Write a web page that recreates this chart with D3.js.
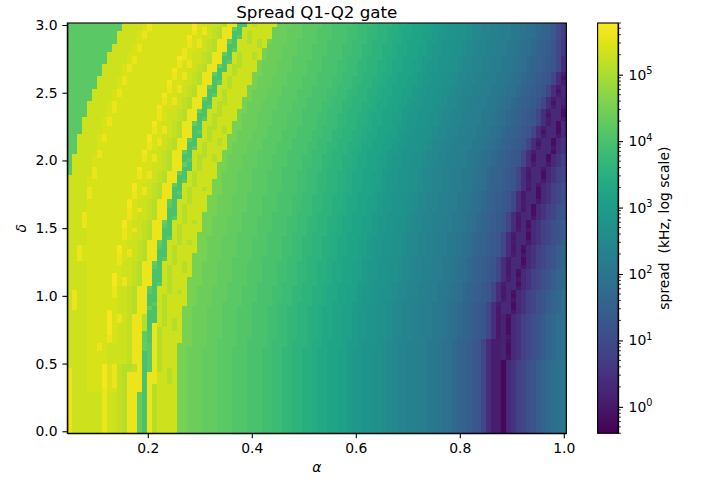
<!DOCTYPE html>
<html>
<head>
<meta charset="utf-8">
<script src="https://cdn.jsdelivr.net/npm/d3@7"></script>
<style>
  html, body { margin: 0; padding: 0; background: #fff; }
  text { font-family: "DejaVu Sans", sans-serif; fill: #000; }
</style>
</head>
<body>
<div id="Area"></div>
<script>
// alpha per column, delta per row (first row is the top of the picture)
const alphaValues = [0.05,0.0596,0.0692,0.0788,0.0884,0.098,0.1076,0.1172,0.1268,0.1364,
  0.146,0.1556,0.1652,0.1747,0.1843,0.1939,0.2035,0.2131,0.2227,0.2323,
  0.2419,0.2515,0.2611,0.2707,0.2803,0.2899,0.2995,0.3091,0.3187,0.3283,
  0.3379,0.3475,0.3571,0.3667,0.3763,0.3859,0.3955,0.4051,0.4147,0.4242,
  0.4338,0.4434,0.453,0.4626,0.4722,0.4818,0.4914,0.501,0.5106,0.5202,
  0.5298,0.5394,0.549,0.5586,0.5682,0.5778,0.5874,0.597,0.6066,0.6162,
  0.6258,0.6354,0.645,0.6546,0.6641,0.6737,0.6833,0.6929,0.7025,0.7121,
  0.7217,0.7313,0.7409,0.7505,0.7601,0.7697,0.7793,0.7889,0.7985,0.8081,
  0.8177,0.8273,0.8369,0.8465,0.8561,0.8657,0.8753,0.8848,0.8944,0.904,
  0.9136,0.9232,0.9328,0.9424,0.952,0.9616,0.9712,0.9808,0.9904,1.0];
const deltaValues = [3,2.97,2.939,2.909,2.879,2.848,2.818,2.788,2.758,2.727,
  2.697,2.667,2.636,2.606,2.576,2.545,2.515,2.485,2.455,2.424,
  2.394,2.364,2.333,2.303,2.273,2.242,2.212,2.182,2.152,2.121,
  2.091,2.061,2.03,2,1.97,1.939,1.909,1.879,1.848,1.818,
  1.788,1.758,1.727,1.697,1.667,1.636,1.606,1.576,1.545,1.515,
  1.485,1.455,1.424,1.394,1.364,1.333,1.303,1.273,1.242,1.212,
  1.182,1.152,1.121,1.091,1.061,1.03,1,0.97,0.939,0.909,
  0.879,0.848,0.818,0.788,0.758,0.727,0.697,0.667,0.636,0.606,
  0.576,0.545,0.515,0.485,0.455,0.424,0.394,0.364,0.333,0.303,
  0.273,0.242,0.212,0.182,0.152,0.121,0.091,0.061,0.03,0];

// one character per cell: position in levelChars = log10(kHz) in tenths, from -0.4
const levelChars = "0123456789abcdefghijklmnopqrstuvwxyzABCDEFGHIJKLMNOPQRSTUVWXYZ";
const spreadRows = [
"KKKKKKKKKKKVVVVWYWWWWWWWWZWWVVUTYYIIVTVVVVMMMLLKKKKJJIIIIHGGGFEEEDCCBAAAzyyxwwwvuttssrrqqpponmlkjheb",
"KKKKKKKKKKKVVVVWYWWWWWWWWZWYVUTYYLIVVVVVVMMMLLLKKKJJJIIIHHGGFFEEDDCBBAAzzyxxwwvvuttssrrqqpponmlkjheb",
"KKKKKKKKKKVVVVWYWWWWWWWWWYWYVUTYYIIVTVVVVMMMLLLKKKJJJIIIHHGGFFEEDDCBBAAzzyxxwwvvuttssrrqqpponmlkjheb",
"KKKKKKKKKKVVVVWYWWWWWWWWZWWVVUTYYIKVTVVVVMMMLLLKKKJJJIIIHHGGFFEEDDCBBAAzzyxxwwvvuttssrrqqpponmlkjheb",
"KKKKKKKKKKVVVVWWWWWWWWWWYWYVUTYYLIVVTVTVNMMMLLKKKKJJIIIIHGGGFEEEDCCBAAAzyyxwwwvuttssrrqqpponmlkjigda",
"KKKKKKKKKVVVVWYWWWWWWWWWYWYVUTYYIIVVVVTVMMMLLLKKKJJJIIIHHGGFFEEDDCBBAAzzyxxwwvvuttssrrqqpponmlkjigda",
"KKKKKKKKKVVVVWYWWWWWWWWYWWVVUTYYIKVVVVVNMMMLLLKKKJJJIIIHHGGFFEEDDCBBAAzzyxxwwvvuttssrrqqpponmlkjigda",
"KKKKKKKKVVVVWWWWWWWWWWWYWVVUTYYLIVTVVTVNMMMLLLKKKJJJIIIHHGGFFEEDDCBBAAzzyxxwwvvuttssrrqqpponmlkjigda",
"KKKKKKKKVVVVWYWWWWWWWWZYWVVUTYYIIVTVVTVNMMMLLKKKKJJIIIIHGGGFEEEDCCBAAAzyyxwwwvuttssrrqqpponmlkjihgd8",
"KKKKKKKKVVVVWYWWWWWWWWYWYVVUTYYIKVTVVVNMMMLLLKKKJJJIIIHHGGFFEEDDCBBAAzzyxxwwvvuttssrrqqpponmlkjihgd8",
"KKKKKKKVVVVWYWWWWWWWWWYWYVUTYYLIVTTVVVNMMMLLLKKKJJJIIIHHGGFFEEDDCBBAAzzyxxwwvvuttssrrqqpponmlkjihgd8",
"KKKKKKKVVVVWYWWWWWWWWZWWVVUTYYIIVTVVVVNMMMLLLKKKJJJIIIHHGGFFEEDDCBBAAzzyxxwwvvuttssrrqqpponmlkjihgd8",
"KKKKKKKVVVVWWWWWWWWWWYWYVUTYYLIVVTVVVNNMMMLLKKKKJJIIIIHGGGFEEEDCCBAAAzyyxwwwvuttssrrqqpponmlkjihgd85",
"KKKKKKVVVVWYWWWWWWWWWYWYVUTYYIIVTVVVVNMMMLLLKKKJJJIIIHHGGFFEEDDCBBAAzzyxxwwvvuttssrrqqpponmlkjihgd83",
"KKKKKKVVVVWYWWWWWWWWZWWVVUTYYIKVTVVVVNMMMLLLKKKJJJIIIHHGGFFEEDDCBBAAzzyxxwwvvuttssrrqqpponmlkjihgd85",
"KKKKKKVVVVWWWWWWWWWWYWYVUTYYLIVVTVVVNNMMMLLKKKKJJIIIIHGGGFEEEDCCBAAAzyyxwwwvuttssrrqqpponmlkjihgd857",
"KKKKKVVVVWYWWWWWWWWWYWYVUTYYIIVTVVVVNMMMLLLKKKJJJIIIHHGGFFEEDDCBBAAzzyxxwwvvuttssrrqqpponmlkjihgd837",
"KKKKKVVVVWYWWWWWWWWZWWVVUTYYIKVTVVVVNMMMLLLKKKJJJIIIHHGGFFEEDDCBBAAzzyxxwwvvuttssrrqqpponmlkjihgd857",
"KKKKKVVVVWWWWWWWWWWYWYVUTYYLIVVTVVVNNMMMLLKKKKJJIIIIHGGGFEEEDCCBAAAzyyxwwwvuttssrrqqpponmlkjihgd8576",
"KKKKVVVVWYWWWWWWWWWYWYVUTYYIIVTTVVVNMMMLLLKKKJJJIIIHHGGFFEEDDCBBAAzzyxxwwvvuttssrrqqpponmlkjihgd8376",
"KKKKVVVVWYWWWWWWWWZWWVVUTYYIKVTVVVVNMMMLLLKKKJJJIIIHHGGFFEEDDCBBAAzzyxxwwvvuttssrrqqpponmlkjihgd8574",
"KKKKVVVVWYWWWWWWWWYWVVUTYYLIVVTVVVNNMMMLLKKKKJJIIIIHGGGFEEEDCCBAAAzyyxwwwvuttssrrqqpponmlkjihgd85772",
"KKKKVVVVWWWWWWWWWWYWVVUTYYIIVTTVVVNMMMLLLKKKJJJIIIHHGGFFEEDDCBBAAzzyxxwwvvuttssrrqqpponmlkjihgd83772",
"KKKVVVVWYWWWWWWWWWYWVVUTYYIKVTVVVVNMMMLLLKKKJJJIIIHHGGFFEEDDCBBAAzzyxxwwvvuttssrrqqpponmlkjihgd85774",
"KKKVVVVWYWWWWWWWWZWVVUTYYLIVVTVVVNNMMMLLLKKKJJJIIIHHGGFFEEDDCBBAAzzyxxwwvvuttssrrqqpponmlkjihgd85727",
"KKKVVVVWWWWWWWWWWYWYVUTYYIIVTTVTVNNMMMLLKKKKJJIIIIHGGGFEEEDCCBAAAzyyxwwwvuttssrrqqpponmlkjihgd857727",
"KKKVVVVWWWWWWWWWWYWYVUTYYIKVTVVTVNMMMLLLKKKJJJIIIHHGGFFEEDDCBBAAzzyxxwwvvuttssrrqqpponmlkjihgd837727",
"KKVVVVWYWWWWWWWWZWWVVUTYYIIVTVVVNNMMMLLLKKKJJJIIIHHGGFFEEDDCBBAAzzyxxwwvvuttssrrqqpponmlkjihgd857747",
"KKVVVVWYWWWWWWWWZWYVUTYYLIVVTVTVNNMMMLLKKKKJJIIIIHGGGFEEEDCCBAAAzyyxwwwvuttssrrqqpponmlkjihgd8577279",
"KKVVVVWWWWWWWWWWYWYVUTYYIIVTVVTVNMMMLLLKKKJJJIIIHHGGFFEEDDCBBAAzzyxxwwvvuttssrrqqpponmlkjihgd8377279",
"KKVVVVWWWWWWWWWWYWVVUTYYIKVTVVVVNMMMLLLKKKJJJIIIHHGGFFEEDDCBBAAzzyxxwwvvuttssrrqqpponmlkjihgd8577479",
"KKVVVVYWWWWWWWWZWVVUTYYLIVVTVVVNNMMMLLKKKKJJIIIIHGGGFEEEDCCBAAAzyyxwwwvuttssrrqqpponmlkjihgd85777279",
"KVVVVWYWWWWWWWWYWYVUTYYIIVTTVTVNMMMLLLKKKJJJIIIHHGGFFEEDDCBBAAzzyxxwwvvuttssrrqqpponmlkjihgd8377279c",
"KVVVVWWWWWWWWWWYWYVUTYYIKVTVVTVNMMMLLLKKKJJJIIIHHGGFFEEDDCBBAAzzyxxwwvvuttssrrqqpponmlkjihgd8377279c",
"KVVVVWWWWWWWWWWWWVVUTYYLIVTVVVNNMMMLLLKKKJJJIIIHHGGFFEEDDCBBAAzzyxxwwvvuttssrrqqpponmlkjihgd8577479c",
"KVVVVYWWWWWWWWZWWVVUTYYIIVTVVVNNMMMLLKKKKJJIIIIHGGGFEEEDCCBAAAzyyxwwwvuttssrrqqpponmlkjihgd8577479cd",
"KVVVVYWWWWWWWWYWYVUTYYLIVTVVVVNMMMLLLKKKJJJIIIHHGGFFEEDDCBBAAzzyxxwwvvuttssrrqqpponmlkjihgd8477279cd",
"VVVVWYWWWWWWWWYWYVUTYYIIVTVVVVNMMMLLLKKKJJJIIIHHGGFFEEDDCBBAAzzyxxwwvvuttssrrqqpponmlkjihgd8477279cd",
"VVVVWWWWWWWWWWWWVVUTYYIKVTVVVNNMMMLLLKKKJJJIIIHHGGFFEEDDCBBAAzzyxxwwvvuttssrrqqpponmlkjihgd8577479cd",
"VVVVWWWWWWWWWZWVVUTYYLIVVTVVVNNMMMLLLKKKJJJIIIHHGGFFEEDDCBBAAzzyxxwwvvuttssrrqqpponmlkjihgd857479cdf",
"VVVVYWWWWWWWWZWYVUTYYIIVTVVTVNNMMMLLLKKKJJJIIIHHGGFFEEDDCBBAAzzyxxwwvvuttssrrqqpponmlkjihgd847279cdf",
"VVVVYWWWWWWWWYWYVUTYYIKVTVVVVNNMMMLLKKKKJJIIIIHGGGFEEEDCCBAAAzyyxwwwvuttssrrqqpponmlkjihgd8477279cdf",
"VVVVYWWWWWWWWYWVVUTYYIIVTVVVNNMMMLLLKKKJJJIIIHHGGFFEEDDCBBAAzzyxxwwvvuttssrrqqpponmlkjihgd8477279cdf",
"VVVVWWWWWWWWZWVVUTYYLIVVTVVVNNMMMLLLKKKJJJIIIHHGGFFEEDDCBBAAzzyxxwwvvuttssrrqqpponmlkjihgd8577479cdf",
"VVVVWWWWWWWWZWVVUTYYKIVTVVVVNNMMMLLLKKKJJJIIIHHGGFFEEDDCBBAAzzyxxwwvvuttssrrqqpponmlkjihgd857279cdfg",
"VVVVWWWWWWWWYWYVUTYYIIVTVVVVNNMMMLLLKKKJJJIIIHHGGFFEEDDCBBAAzzyxxwwvvuttssrrqqpponmlkjihgd847279cdfg",
"VVVYWWWWWWWWYWVVUTYYIIVTVVVNNNMMMLLKKKKJJIIIIHGGGFEEEDCCBAAAzyyxwwwvuttssrrqqpponmlkjihgd8577279cdfg",
"VVVYWWWWWWWWYWVVUTYYIKVTVVVNNMMMLLLKKKJJJIIIHHGGFFEEDDCBBAAzzyxxwwvvuttssrrqqpponmlkjihgd8477479cdfg",
"VVVYWWWWWWWZWVVUTYYLIVVTVTVNNMMMLLLKKKJJJIIIHHGGFFEEDDCBBAAzzyxxwwvvuttssrrqqpponmlkjihgd847379cdfgi",
"VVVYWWWWWWWZWVVUTYYKIVTVVVVNNMMMLLLKKKJJJIIIHHGGFFEEDDCBBAAzzyxxwwvvuttssrrqqpponmlkjihgd847279cdfgi",
"VVVVWWWWWWWYWYVUTYYIIVTVVVVNNMMMLLLKKKJJJIIIHHGGFFEEDDCBBAAzzyxxwwvvuttssrrqqpponmlkjihgd857479cdfgi",
"VVVVWWWWWWWYWVVUTYYIIVTVVVNNNMMMLLKKKKJJIIIIHGGGFEEEDCCBAAAzyyxwwwvuttssrrqqpponmlkjihgd8577279cdfgi",
"VVVVWWWWWWWYWVVUTYYIKVTVVVNNMMMLLLKKKJJJIIIHHGGFFEEDDCBBAAzzyxxwwvvuttssrrqqpponmlkjihgd8477279cdfgi",
"VVVVWWWWWWWWVVUTYYLIVVTVTVNNMMMLLLKKKJJJIIIHHGGFFEEDDCBBAAzzyxxwwvvuttssrrqqpponmlkjihgd8577479cdfgi",
"VVYWWWWWWWZWVVUTYYKIVTVVVVNNMMMLLLKKKJJJIIIHHGGFFEEDDCBBAAzzyxxwwvvuttssrrqqpponmlkjihgd847379cdfgik",
"VVYWWWWWWWZWYVUTYYIIVTVVVVNNMMMLLLKKKJJJIIIHHGGFFEEDDCBBAAzzyxxwwvvuttssrrqqpponmlkjihgd847279cdfgik",
"VVYWWWWWWWYWYVUTYYIIVTVVVNNNMMMLLLKKKJJJIIIHHGGFFEEDDCBBAAzzyxxwwvvuttssrrqqpponmlkjihgd857479cdfgik",
"VVYWWWWWWWYWVVUTYYIKVTVVVNNNMMMLLKKKKJJIIIIHGGGFEEEDCCBAAAzyyxwwwvuttssrrqqpponmlkjihgd8577279cdfgik",
"VVVVWWWWWWYVVUTYYLIVVTVTVNNMMMLLLKKKJJJIIIHHGGFFEEDDCBBAAzzyxxwwvvuttssrrqqpponmlkjihgd8477279cdfgik",
"VVVVWWWWWWWVVUTYYKIVTVVTVNNMMMLLLKKKJJJIIIHHGGFFEEDDCBBAAzzyxxwwvvuttssrrqqpponmlkjihgd8477479cdfgik",
"VVVVWWWWWWWVVUTYYIIVTVVTVNNMMMLLLKKKJJJIIIHHGGFFEEDDCBBAAzzyxxwwvvuttssrrqqpponmlkjihgd847379cdfgikl",
"VVVVWWWWWZWVVUTYYIIVTVVVVNNMMMLLLKKKJJJIIIHHGGFFEEDDCBBAAzzyxxwwvvuttssrrqqpponmlkjihgd847279cdfgikl",
"VVVVWWWWWZWYVUTYYIIVTVVVNNNMMMLLLKKKJJJIIIHHGGFFEEDDCBBAAzzyxxwwvvuttssrrqqpponmlkjihgd857479cdfgikl",
"VVVVWWWWWZWYVUTYYIKVTVVVNNNMMMLLKKKKJJIIIIHGGGFEEEDCCBAAAzyyxwwwvuttssrrqqpponmlkjihgd8577279cdfgikl",
"VVVVWWWWWYVVUTYYLIVVTVVVNNMMMLLLKKKJJJIIIHHGGFFEEDDCBBAAzzyxxwwvvuttssrrqqpponmlkjihgd8477479cdfgikl",
"VYVVWWWWWYVVUTYYKIVVTVTVNNMMMLLLKKKJJJIIIHHGGFFEEDDCBBAAzzyxxwwvvuttssrrqqpponmlkjihgd847379cdfgiklm",
"VYVVWWWWWYVVUTYYIIVTVVVVNNMMMLLLKKKJJJIIIHHGGFFEEDDCBBAAzzyxxwwvvuttssrrqqpponmlkjihgd847279cdfgiklm",
"VYVVWWWWWWVVUTYYIIVTVVVVNNMMMLLLKKKJJJIIIHHGGFFEEDDCBBAAzzyxxwwvvuttssrrqqpponmlkjihgd857479cdfgiklm",
"VYVVWWWWWWVVUTYYIKVTVVVVNNMMMLLKKKKJJIIIIHGGGFEEEDCCBAAAzyyxwwwvuttssrrqqpponmlkjihgd8577279cdfgiklm",
"VYVVWWWWWWVVUTYYLIVTVVVNNMMMLLLKKKJJJIIIHHGGFFEEDDCBBAAzzyxxwwvvuttssrrqqpponmlkjihgd8477279cdfgiklm",
"VVVVWWWWZWVVUTYYIIVTVVVNNMMMLLLKKKJJJIIIHHGGFFEEDDCBBAAzzyxxwwvvuttssrrqqpponmlkjihgd8477479cdfgiklm",
"VVVVWWWWZWYVUYYTIIVTVVVNNMMMLLLKKKJJJIIIHHGGFFEEDDCBBAAzzyxxwwvvuttssrrqqpponmlkjihgd846379cdfgiklmn",
"VVVVWWWWZWYVUYYTIIVTVTVNNMMMLLLKKKJJJIIIHHGGFFEEDDCBBAAzzyxxwwvvuttssrrqqpponmlkjihgd846279cdfgiklmn",
"VVVVWWWWZWVVUYYTIYVTVTVNNMMMLLLKKKJJJIIIHHGGFFEEDDCBBAAzzyxxwwvvuttssrrqqpponmlkjihgd846279cdfgiklmn",
"VVVVWWWWZWVVUYYTIYTVVTVNNMMMLLLKKKJJJIIIHHGGFFEEDDCBBAAzzyxxwwvvuttssrrqqpponmlkjihgd846279cdfgiklmn",
"VVVVWWWWZWVVUYYLJYTVVVVNNMMMLLLKKKJJJIIIHHGGFFEEDDCBBAAzzyxxwwvvuttssrrqqpponmlkjihgd846279cdfgiklmn",
"VVVVWWWWYWVVUYYLJYTVVVVNNMMMLLLKKKJJJIIIHHGGFFEEDDCBBAAzzyxxwwvvuttssrrqqpponmlkjihgd846479cdfgiklmn",
"VVVVWWWWYWVVUYYLJYTVVVVNNMMMLLKKKKJJIIIIHGGGFEEEDCCBAAAzyyxwwwvuttssrrqqpponmlkjihgd8556379cdfgiklmn",
"VVVVWWYWVVVVUYYLKYTVVVNNNMMMLLKKKKJJIIIIHGGGFEEEDCCBAAAzyyxwwwvuttssrrqqpponmlkjihgd8556279cdfgiklmn",
"VVVVWWYWVVVVUYYLKYTVVVNNMMMLLLKKKJJJIIIHHGGFFEEDDCBBAAzzyxxwwvvuttssrrqqpponmlkjihgd8556279cdfgiklmn",
"VVVVWWWWVVVVUYYIKYTVVVNNMMMLLLKKKJJJIIIHHGGFFEEDDCBBAAzzyxxwwvvuttssrrqqpponmlkjihgd8556279cdfgiklmn",
"VVVVWWWWVVVVUYYIKYTVVVNNMMMLLLKKKJJJIIIHHGGFFEEDDCBBAAzzyxxwwvvuttssrrqqpponmlkjihgd8556379cdfgiklmn",
"VVVVWWWWVVVVUYYIKYTVVVNNMMMLLLKKKJJJIIIHHGGFFEEDDCBBAAzzyxxwwvvuttssrrqqpponmlkjihgd855179cdfgiklmno",
"VVVVWWWZWYUTTUYIKYTVVVNNMMMLLLKKKJJJIIIHHGGFFEEDDCBBAAzzyxxwwvvuttssrrqqpponmlkjihgd855179cdfgiklmno",
"YVVVWWWZWYUTTUYIKYTVTVNNMMMLLLKKKJJJIIIHHGGFFEEDDCBBAAzzyxxwwvvuttssrrqqpponmlkjihgd855179cdfgiklmno",
"YVVVWWWZWYUTYYYIYYVVTVNNMMMLLLKKKJJJIIIHHGGFFEEDDCBBAAzzyxxwwvvuttssrrqqpponmlkjihgd855179cdfgiklmno",
"YVVVWWWZWYUTYYYIYYVVTVNNMMMLLLKKKJJJIIIHHGGFFEEDDCBBAAzzyxxwwvvuttssrrqqpponmlkjihgd855179cdfgiklmno",
"YVVVWWWZWYUTYYYIYYVVTVNNMMMLLLKKKJJJIIIHHGGFFEEDDCBBAAzzyxxwwvvuttssrrqqpponmlkjihgd855179cdfgiklmno",
"YVVVWWWZWYUTYYYIYTVVVVNNMMMLLLKKKJJJIIIHHGGFFEEDDCBBAAzzyxxwwvvuttssrrqqpponmlkjihgd855179cdfgiklmno",
"YVVVWWWYWWUTYYYIYTVVVVNNMMMLLLKKKJJJIIIHHGGFFEEDDCBBAAzzyxxwwvvuttssrrqqpponmlkjihgd855179cdfgiklmno",
"YVVVVVVYVVUTYYLIYTVVVVNNMMMLLLKKKJJJIIIHHGGFFEEDDCBBAAzzyxxwwvvuttssrrqqpponmlkjihgd855179cdfgiklmno",
"YVVVVVVYVVUTYYLIYTVVVVNNMMMLLLKKKJJJIIIHHGGFFEEDDCBBAAzzyxxwwvvuttssrrqqpponmlkjihgd855179cdfgiklmno",
"YVVVVVVYVVUTYYLIYTVVVVNNMMMLLLKKKJJJIIIHHGGFFEEDDCBBAAzzyxxwwvvuttssrrqqpponmlkjihgd855179cdfgiklmno",
"YVVVVVVYVVUTYYLIYTVVVVNNMMMLLLKKKJJJIIIHHGGFFEEDDCBBAAzzyxxwwvvuttssrrqqpponmlkjihgd855179cdfgiklmno",
"YVVVVVVYVVUTYYLIYTVVVVNNMMMLLLKKKJJJIIIHHGGFFEEDDCBBAAzzyxxwwvvuttssrrqqpponmlkjihgd855179cdfgiklmno",
"YVVVVVVYVVUTYYLIYTVVVVNNMMMLLLKKKJJJIIIHHGGFFEEDDCBBAAzzyxxwwvvuttssrrqqpponmlkjihgd855179cdfgiklmno",
"YVVVVVVYVVUTYYLIYTVVVVNNMMMLLLKKKJJJIIIHHGGFFEEDDCBBAAzzyxxwwvvuttssrrqqpponmlkjihgd855179cdfgiklmno",
"YVVVVVVYVVUTYYLIYTVVVVNNMMMLLLKKKJJJIIIHHGGFFEEDDCBBAAzzyxxwwvvuttssrrqqpponmlkjihgd855179cdfgiklmno",
"YVVVVVVYVVUTYYLIYTVVVVNNMMMLLLKKKJJJIIIHHGGFFEEDDCBBAAzzyxxwwvvuttssrrqqpponmlkjihgd855179cdfgiklmno",
"YVVVVVVYVVUTYYLIYTVVVVNNMMMLLLKKKJJJIIIHHGGFFEEDDCBBAAzzyxxwwvvuttssrrqqpponmlkjihgd855179cdfgiklmno"
];

const xTickValues = [0.2, 0.4, 0.6, 0.8, 1.0];
const yTickValues = [0, 0.5, 1, 1.5, 2, 2.5, 3];
const colorbarMajorTicks = [1, 10, 100, 1000, 10000, 100000];
const colorbarMinorTicks = [0.4, 0.5, 0.6, 0.7, 0.8, 0.9, 2, 3, 4, 5, 6, 7, 8, 9, 20, 30, 40, 50, 60, 70, 80, 90,
  200, 300, 400, 500, 600, 700, 800, 900, 2000, 3000, 4000, 5000, 6000, 7000, 8000, 9000,
  20000, 30000, 40000, 50000, 60000, 70000, 80000, 90000, 200000, 300000, 400000, 500000, 600000];

const margin = {top: 23, right: 138.7, bottom: 46.7, left: 67.3};
const width = 705 - margin.left - margin.right;
const height = 480 - margin.top - margin.bottom;
const alphaStep = alphaValues[1] - alphaValues[0];
const deltaStep = deltaValues[0] - deltaValues[1];

const svg = d3.select("#Area").append("svg")
    .attr("width", 705)
    .attr("height", 480)
    .style("display", "block");

const g = svg.append("g")
    .attr("transform", "translate(" + margin.left + "," + margin.top + ")");

const x = d3.scaleLinear()
    .domain([alphaValues[0] - alphaStep / 2, alphaValues[alphaValues.length - 1] + alphaStep / 2])
    .range([0, width]);
const y = d3.scaleLinear()
    .domain([deltaValues[deltaValues.length - 1] - deltaStep / 2, deltaValues[0] + deltaStep / 2])
    .range([height, 0]);
const color = d3.scaleSequentialLog(d3.interpolateViridis).domain([0.4, 600000]);

const cells = [];
spreadRows.forEach((row, r) => {
    for (let c = 0; c < row.length; c++) {
        cells.push({
            alpha: alphaValues[c],
            delta: deltaValues[r],
            spread: Math.pow(10, -0.4 + levelChars.indexOf(row[c]) / 10)
        });
    }
});

// the bottom/right overlap keeps hairline gaps from showing between cells
g.append("g").attr("shape-rendering", "crispEdges")
    .selectAll("rect")
    .data(cells)
    .join("rect")
    .attr("x", d => x(d.alpha - alphaStep / 2))
    .attr("y", d => y(d.delta + deltaStep / 2))
    .attr("width", x(alphaStep) - x(0) + 0.6)
    .attr("height", y(0) - y(deltaStep) + 0.6)
    .attr("fill", d => color(d.spread));

function styleAxis(sel) {
    sel.selectAll("text").style("font-size", "13.9px");
    sel.selectAll("line, path").attr("stroke", "#000").attr("stroke-width", 1.1);
}

g.append("g")
    .attr("transform", "translate(0," + height + ")")
    .call(d3.axisBottom(x).tickValues(xTickValues).tickFormat(d3.format(".1f")).tickSize(4.9).tickPadding(5.4).tickSizeOuter(0))
    .call(styleAxis);
g.append("g")
    .call(d3.axisLeft(y).tickValues(yTickValues).tickFormat(d3.format(".1f")).tickSize(4.9).tickPadding(4.9).tickSizeOuter(0))
    .call(styleAxis);
g.append("rect")
    .attr("width", width).attr("height", height)
    .attr("fill", "none").attr("stroke", "#000").attr("stroke-width", 1.1);

g.append("text")
    .attr("x", width / 2).attr("y", -5.5)
    .attr("text-anchor", "middle")
    .style("font-size", "16.7px")
    .text("Spread Q1-Q2 gate");
g.append("text")
    .attr("x", width / 2).attr("y", height + 39)
    .attr("text-anchor", "middle")
    .style("font-size", "13.9px").style("font-style", "italic")
    .text("α");
g.append("text")
    .attr("transform", "translate(-41.5," + (height / 2) + ") rotate(-90)")
    .attr("text-anchor", "middle")
    .style("font-size", "13.9px").style("font-style", "italic")
    .text("δ");

// colorbar
const cbLeft = 530.3, cbWidth = 20.5;
const cb = g.append("g").attr("transform", "translate(" + cbLeft + ",0)");
const cbScale = d3.scaleLog().domain([0.4, 600000]).range([height, 0]);

const grad = svg.append("defs").append("linearGradient")
    .attr("id", "cbGrad").attr("x1", 0).attr("x2", 0).attr("y1", 1).attr("y2", 0);
grad.selectAll("stop")
    .data(d3.range(0, 1.0001, 0.05))
    .join("stop")
    .attr("offset", d => d)
    .attr("stop-color", d => d3.interpolateViridis(d));
cb.append("rect")
    .attr("width", cbWidth).attr("height", height)
    .attr("fill", "url(#cbGrad)");

const cbAxis = cb.append("g").attr("transform", "translate(" + cbWidth + ",0)");
cbAxis.call(d3.axisRight(cbScale).tickValues(colorbarMajorTicks).tickFormat("").tickSize(4.9).tickSizeOuter(0))
    .call(styleAxis);
cbAxis.selectAll(".minor")
    .data(colorbarMinorTicks)
    .join("line")
    .attr("class", "minor")
    .attr("x2", 2.8)
    .attr("y1", d => cbScale(d)).attr("y2", d => cbScale(d))
    .attr("stroke", "#000").attr("stroke-width", 0.8);

const majorLabels = cbAxis.selectAll(".major")
    .data(colorbarMajorTicks)
    .join("text")
    .attr("class", "major")
    .attr("x", 10.5)
    .attr("y", d => cbScale(d) + 5)
    .style("font-size", "13.9px");
majorLabels.append("tspan").text("10");
majorLabels.append("tspan")
    .attr("dy", -5.5)
    .style("font-size", "9.7px")
    .text(d => Math.round(Math.log10(d)));

cb.append("rect")
    .attr("width", cbWidth).attr("height", height)
    .attr("fill", "none").attr("stroke", "#000").attr("stroke-width", 1.1);
cb.append("text")
    .attr("transform", "translate(71," + (height / 2) + ") rotate(-90)")
    .attr("text-anchor", "middle")
    .style("font-size", "13.9px")
    .style("white-space", "pre")
    .text("spread  (kHz, log scale)");
</script>
</body>
</html>
